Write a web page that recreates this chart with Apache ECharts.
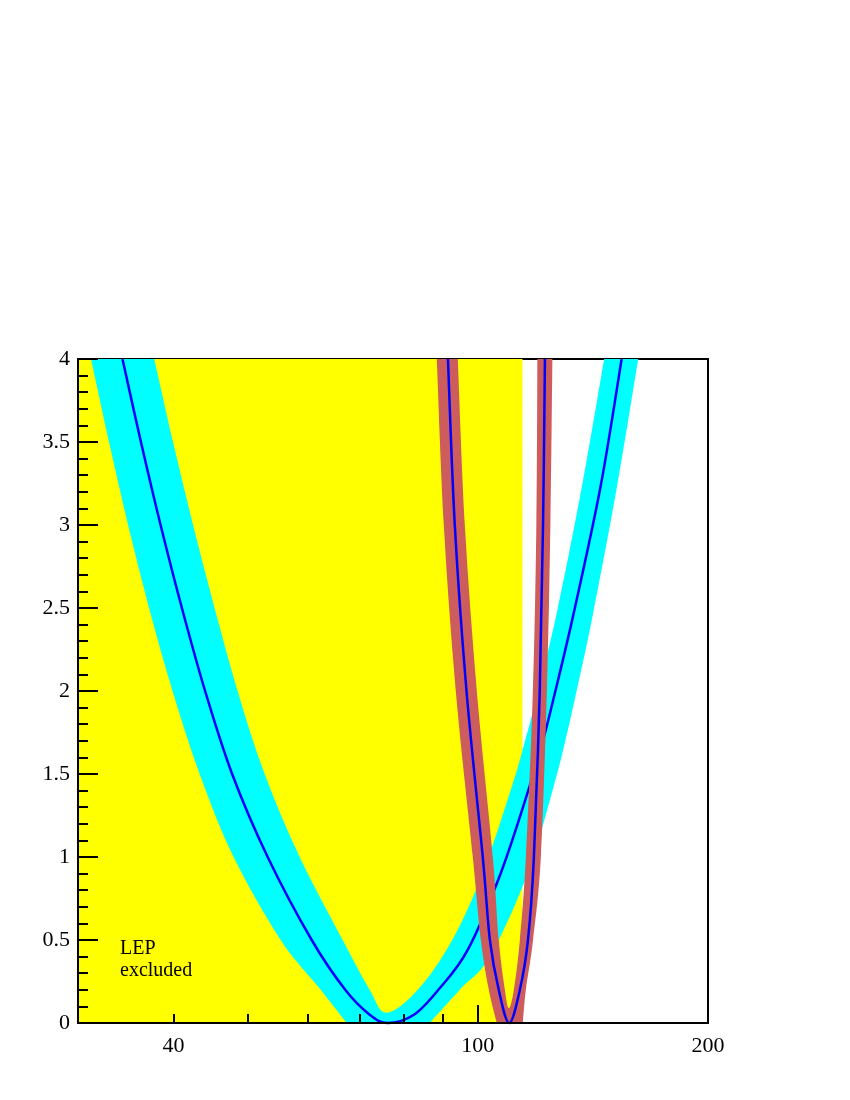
<!DOCTYPE html>
<html>
<head>
<meta charset="utf-8">
<script src="https://cdn.jsdelivr.net/npm/echarts@6/dist/echarts.min.js"></script>
<style>
	html, body { margin: 0; padding: 0; background: #fff; }
	#chart { width: 850px; height: 1100px; }
</style>
</head>
<body>
<div id="chart"></div>
<script>
	// mass range (GeV) and LEP limit
	var xMin = 30, xMax = 200;
	var lepLimit = 114.4;
	var xLabelValues = [40, 100, 200];
	var xMajorTicks = [100];
	var xMinorTicks = [40, 50, 60, 70, 80, 90, 200];

	// cyan band edges, [mass, delta chi2]
	var bandOuterLeft = [[31.2, 4.0], [32.94, 3.5], [34.88, 3.0], [37.16, 2.5], [39.88, 2.0], [43.27, 1.5], [47.93, 1.0], [55.23, 0.5], [62.3, 0.2], [67.38, 0]];
	var bandOuterRight = [[86.5, 0], [94.7, 0.2], [103.7, 0.4], [116.4, 0.91], [125.75, 1.43], [130.0, 1.69], [133.75, 1.94], [141.4, 2.46], [152.05, 3.23], [162.1, 4.0]];
	var bandInner = [[37.74, 4.0], [39.94, 3.5], [42.42, 3.0], [45.26, 2.5], [48.51, 2.0], [52.62, 1.5], [58.48, 1.0], [66.57, 0.5], [72.2, 0.2], [75.95, 0.062], [83.46, 0.2], [92.6, 0.5], [101.6, 0.91], [110.9, 1.43], [115.15, 1.69], [119.0, 1.94], [126.7, 2.46], [136.8, 3.23], [146.3, 4.0]];

	// blue curve inside the cyan band
	var fitCurve = [[34.3, 4.0], [36.26, 3.5], [38.47, 3.0], [41.02, 2.5], [43.99, 2.0], [47.72, 1.5], [53.11, 1.0], [60.64, 0.5], [67.08, 0.2], [72.2, 0.05], [76.2, 0], [82.5, 0.05], [88.8, 0.2], [97.0, 0.44], [107.3, 0.91], [116.95, 1.43], [121.5, 1.69], [125.4, 1.94], [133.35, 2.46], [144.7, 3.23], [154.2, 4.0]];

	// brown band edges and the blue curve inside it
	var brownOuterLeft = [[88.38, 4.0], [90.26, 3.0], [93.58, 2.0], [98.5, 1.0], [100.91, 0.5], [103.37, 0.2], [105.9, 0]];
	var brownOuterRight = [[114.5, 0], [115.56, 0.2], [118.1, 0.5], [120.9, 1.0], [123.12, 2.0], [124.43, 3.0], [125.18, 4.0]];
	var brownInner = [[94.15, 4.0], [96.16, 3.0], [99.7, 2.0], [104.62, 1.0], [106.5, 0.5], [108.49, 0.2], [109.79, 0.09], [111.46, 0.2], [113.5, 0.5], [115.56, 1.0], [118.03, 2.0], [119.28, 3.0], [119.64, 4.0]];
	var narrowCurve = [[91.4, 4.0], [93.3, 3.0], [96.65, 2.0], [101.5, 1.0], [103.7, 0.5], [106.5, 0.2], [109.9, 0], [113.5, 0.2], [116.3, 0.5], [118.4, 1.0], [120.5, 2.0], [121.7, 3.0], [122.4, 4.0]];

	function lg(v) { return Math.log10(v); }
	function toXY(pts) { return pts.map(function (p) { return [lg(p[0]), p[1]]; }); }

	function curvePath(pts, start)
	{
		var d = (start ? 'M' : 'L') + pts[0][0] + ' ' + pts[0][1];
		for (var i = 0; i < pts.length - 1; i++) {
			var p0 = pts[i > 0 ? i - 1 : i], p1 = pts[i], p2 = pts[i + 1];
			var p3 = pts[i + 2 < pts.length ? i + 2 : i + 1];
			var c1x = p1[0] + (p2[0] - p0[0]) / 6, c1y = p1[1] + (p2[1] - p0[1]) / 6;
			var c2x = p2[0] - (p3[0] - p1[0]) / 6, c2y = p2[1] - (p3[1] - p1[1]) / 6;
			d += ' C' + [c1x, c1y, c2x, c2y, p2[0], p2[1]].join(' ');
		}
		return d;
	}

	// region between outer edge (left + right) and inner edge
	function bandRenderer(outerLeft, outerRight, inner, color)
	{
		return function (params, api) {
			var px = function (pts) { return toXY(pts).map(function (p) { return api.coord(p); }); };
			var d = curvePath(px(outerLeft), true)
				+ ' ' + curvePath(px(outerRight), false)
				+ ' ' + curvePath(px(inner.slice().reverse()), false) + ' Z';
			return { type: 'path', shape: { pathData: d }, style: { fill: color, stroke: null } };
		};
	}

	// thin curve drawn with the same smoothing as the bands
	function lineRenderer(pts, color, width)
	{
		return function (params, api) {
			var d = curvePath(toXY(pts).map(function (p) { return api.coord(p); }), true);
			return { type: 'path', shape: { pathData: d }, style: { fill: null, stroke: color, lineWidth: width } };
		};
	}

	function renderLep(params, api)
	{
		var a = api.coord([lg(xMin), 4]), b = api.coord([lg(lepLimit), 0]);
		return { type: 'rect', shape: { x: a[0], y: a[1], width: b[0] - a[0], height: b[1] - a[1] }, style: { fill: '#ffff00' } };
	}

	var serif = 'Liberation Serif';
	var option = {
		backgroundColor: '#fff',
		animation: false,
		grid: {
			left: 78, top: 359, right: 142, bottom: 77,
			show: true, borderColor: '#000', borderWidth: 2, backgroundColor: '#fff',
			outerBoundsMode: 'none'
		},
		xAxis: [
			{
				type: 'value', min: lg(xMin), max: lg(xMax), position: 'bottom', z: 10,
				axisLine: { show: true, onZero: false, lineStyle: { color: '#000', width: 2 } },
				axisTick: { show: true, inside: true, length: 18, customValues: xMajorTicks.map(lg), lineStyle: { color: '#000', width: 2 } },
				axisLabel: {
					customValues: xLabelValues.map(lg), color: '#000', fontFamily: serif, fontSize: 22, margin: 12,
					formatter: function (v) { return String(Math.round(Math.pow(10, v))); }
				},
				splitLine: { show: false }
			},
			{
				type: 'value', min: lg(xMin), max: lg(xMax), position: 'bottom', z: 10,
				axisLine: { show: false },
				axisTick: { show: true, inside: true, length: 9, customValues: xMinorTicks.map(lg), lineStyle: { color: '#000', width: 2 } },
				axisLabel: { show: false },
				splitLine: { show: false }
			}
		],
		yAxis: {
			type: 'value', min: 0, max: 4, interval: 0.5, z: 10,
			axisLine: { show: true, onZero: false, lineStyle: { color: '#000', width: 2 } },
			axisTick: { show: true, inside: true, length: 20, lineStyle: { color: '#000', width: 2 } },
			minorTick: { show: true, splitNumber: 5, length: 10, lineStyle: { color: '#000', width: 2 } },
			axisLabel: { color: '#000', fontFamily: serif, fontSize: 22, margin: 8 },
			splitLine: { show: false }
		},
		graphic: [
			{
				type: 'text', left: 120, top: 938, z: 20,
				style: { text: 'LEP\nexcluded', font: '20px "Liberation Serif"', fill: '#000', lineHeight: 22 }
			}
		],
		series: [
			{ type: 'custom', renderItem: renderLep, data: [[lg(xMin), 0]], z: 1, silent: true },
			{ type: 'custom', renderItem: bandRenderer(bandOuterLeft, bandOuterRight, bandInner, '#00ffff'), data: [[lg(76), 0]], z: 2, silent: true },
			{ type: 'custom', renderItem: lineRenderer(fitCurve, '#0000ff', 2.5), data: [[lg(76), 0]], z: 3, silent: true },
			{ type: 'custom', renderItem: bandRenderer(brownOuterLeft, brownOuterRight, brownInner, '#cd5c5c'), data: [[lg(110), 0]], z: 4, silent: true },
			{ type: 'custom', renderItem: lineRenderer(narrowCurve, '#0000ff', 2.5), data: [[lg(110), 0]], z: 5, silent: true }
		]
	};

	var myChart = echarts.init(document.getElementById('chart'));
	myChart.setOption(option);
</script>
</body>
</html>
